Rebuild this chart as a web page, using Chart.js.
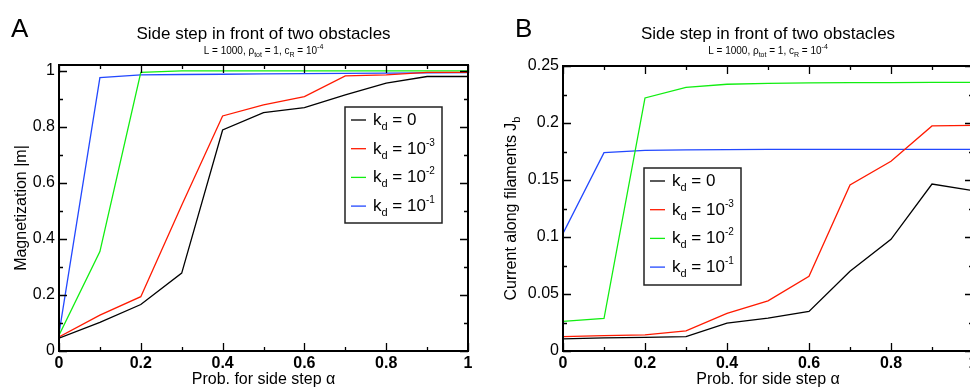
<!DOCTYPE html>
<html>
<head>
<meta charset="utf-8">
<script src="https://cdn.jsdelivr.net/npm/chart.js@4"></script>
<style>
  html, body { margin: 0; padding: 0; background: #fff; overflow: hidden; width: 970px; height: 387px; }
  canvas { position: absolute; top: 0; }
  #chartA { left: 0; }
  #chartB { left: 485px; }
</style>
</head>
<body>
<canvas id="chartA" width="485" height="387"></canvas>
<canvas id="chartB" width="500" height="387"></canvas>
<script>
// ------- Dados -------
const alpha = [0, 0.1, 0.2, 0.3, 0.4, 0.5, 0.6, 0.7, 0.8, 0.9, 1];

// painel A: magnetização |m|
const magK0 = [0.046, 0.102, 0.166, 0.278, 0.789, 0.851, 0.869, 0.914, 0.956, 0.980, 0.980];
const magK3 = [0.050, 0.128, 0.194, 0.520, 0.839, 0.879, 0.908, 0.982, 0.986, 0.995, 0.995];
const magK2 = [0.056, 0.355, 0.995, 1.000, 1.000, 1.000, 1.000, 1.000, 1.000, 1.000, 1.000];
const magK1 = [0.062, 0.976, 0.986, 0.987, 0.988, 0.989, 0.990, 0.991, 0.992, 0.993, 0.994];

// painel B: corrente J_b
const curK0 = [0.0106, 0.0115, 0.0120, 0.0126, 0.0244, 0.0288, 0.0347, 0.0700, 0.0980, 0.1465, 0.1406];
const curK3 = [0.0126, 0.0135, 0.0141, 0.0176, 0.0330, 0.0440, 0.0656, 0.1456, 0.1665, 0.1974, 0.1980];
const curK2 = [0.0259, 0.0285, 0.2220, 0.2313, 0.2340, 0.2348, 0.2352, 0.2354, 0.2355, 0.2356, 0.2357];
const curK1 = [0.1032, 0.1740, 0.1760, 0.1765, 0.1767, 0.1768, 0.1769, 0.1769, 0.1769, 0.1769, 0.1769];

const seriesColors = ['#000000', '#ff1a00', '#11ee11', '#2248ff'];
const kdExponents = [null, '-3', '-2', '-1'];

const xMajor = [0, 0.2, 0.4, 0.6, 0.8, 1];
const xMinor = [0.1, 0.3, 0.5, 0.7, 0.9];
const xTickLabels = ['0', '0.2', '0.4', '0.6', '0.8', '1'];

const yMajorA = [0, 0.2, 0.4, 0.6, 0.8, 1];
const yMinorA = [0.1, 0.3, 0.5, 0.7, 0.9];
const yTickLabelsA = ['0', '0.2', '0.4', '0.6', '0.8', '1'];

const yMajorB = [0, 0.05, 0.1, 0.15, 0.2, 0.25];
const yMinorB = [0.025, 0.075, 0.125, 0.175, 0.225];
const yTickLabelsB = ['0', '0.05', '0.1', '0.15', '0.2', '0.25'];

const FONT = '"Liberation Sans", Arial, Helvetica, sans-serif';

// ------- Utilidades -------
function drawRich(ctx, parts, x, y, align) {
  // parts: [texto, tamanho, deslocamento vertical]
  let total = 0;
  parts.forEach(p => {
    ctx.font = p[1] + 'px ' + FONT;
    total += ctx.measureText(p[0]).width;
  });
  let cx = x;
  if (align === 'center') cx = x - total / 2;
  ctx.textAlign = 'left';
  ctx.textBaseline = 'alphabetic';
  parts.forEach(p => {
    ctx.font = p[1] + 'px ' + FONT;
    ctx.fillText(p[0], cx, y + (p[2] || 0));
    cx += ctx.measureText(p[0]).width;
  });
}

function kdLabel(exp) {
  if (exp === null) return [['k', 17, 0], ['d', 11, 5], [' = 0', 17, 0]];
  return [['k', 17, 0], ['d', 11, 5], [' = 10', 17, 0], [exp, 10, -8]];
}

const subtitle = [
  ['L = 1000, \u03c1', 10, 0], ['tot', 7, 3], [' = 1, c', 10, 0], ['R', 7, 3], [' = 10', 10, 0], ['-4', 7, -5]
];

function decorPlugin(opt) {
  return {
    id: 'decor' + opt.letter,
    afterDatasetsDraw(chart) {
      const ctx = chart.ctx;
      const a = chart.chartArea;
      const xs = chart.scales.x, ys = chart.scales.y;
      ctx.save();
      ctx.fillStyle = '#000';
      ctx.strokeStyle = '#000';

      // ticks para dentro nos quatro lados
      ctx.lineWidth = 1.3;
      ctx.beginPath();
      const tx = (vals, len) => vals.forEach(v => {
        const px = Math.round(xs.getPixelForValue(v)) + 0.5;
        ctx.moveTo(px, a.bottom); ctx.lineTo(px, a.bottom - len);
        ctx.moveTo(px, a.top); ctx.lineTo(px, a.top + len);
      });
      const ty = (vals, len) => vals.forEach(v => {
        const py = Math.round(ys.getPixelForValue(v)) + 0.5;
        ctx.moveTo(a.left, py); ctx.lineTo(a.left + len, py);
        ctx.moveTo(a.right, py); ctx.lineTo(a.right - len, py);
      });
      tx(xMajor, 8); tx(xMinor, 4);
      ty(opt.yMajor, 8); ty(opt.yMinor, 4);
      ctx.stroke();

      // moldura
      ctx.lineWidth = 2;
      ctx.strokeRect(a.left, a.top, a.right - a.left, a.bottom - a.top);

      // títulos
      const cx = (a.left + a.right) / 2;
      ctx.font = '26px ' + FONT;
      ctx.textAlign = 'left';
      ctx.fillText(opt.letter, opt.letterX, 37);
      drawRich(ctx, [['Side step in front of two obstacles', 17, 0]], cx, 39, 'center');
      drawRich(ctx, subtitle, cx, 54, 'center');

      // eixo x
      drawRich(ctx, [['Prob. for side step \u03b1', 16, 0]], cx, 384, 'center');

      // eixo y (rotacionado)
      ctx.save();
      ctx.translate(opt.yTitleX, (a.top + a.bottom) / 2);
      ctx.rotate(-Math.PI / 2);
      drawRich(ctx, opt.yTitle, 0, 0, 'center');
      ctx.restore();

      // legenda
      const L = opt.legend;
      ctx.fillStyle = '#fff';
      ctx.fillRect(L.x, L.y, L.w, L.h);
      ctx.lineWidth = 1.5;
      ctx.strokeStyle = '#222';
      ctx.strokeRect(L.x, L.y, L.w, L.h);
      chart.data.datasets.forEach((ds, i) => {
        const ly = L.y + 13 + i * 28.7;
        ctx.strokeStyle = ds.borderColor;
        ctx.lineWidth = 1.3;
        ctx.beginPath();
        ctx.moveTo(L.x + 6, ly);
        ctx.lineTo(L.x + 21, ly);
        ctx.stroke();
        ctx.fillStyle = '#000';
        drawRich(ctx, kdLabel(kdExponents[i]), L.x + 28, ly + 5, 'left');
      });
      ctx.restore();
    }
  };
}

function buildDatasets(seriesList) {
  return seriesList.map((vals, i) => ({
    data: alpha.map((x, j) => ({ x, y: vals[j] })),
    borderColor: seriesColors[i],
    borderWidth: 1.3,
    pointRadius: 0,
    tension: 0,
    fill: false
  }));
}

function makeChart(id, o) {
  const ctx = document.getElementById(id).getContext('2d');
  return new Chart(ctx, {
    type: 'line',
    data: { datasets: buildDatasets(o.series) },
    options: {
      responsive: false,
      animation: false,
      devicePixelRatio: 1,
      layout: { padding: o.padding },
      plugins: { legend: { display: false }, tooltip: { enabled: false }, title: { display: false } },
      scales: {
        x: {
          type: 'linear', min: 0, max: 1,
          afterBuildTicks: s => { s.ticks = xMajor.map(v => ({ value: v })); },
          afterFit: s => { s.height = 36; },
          grid: { display: false, drawTicks: false },
          border: { display: false },
          ticks: {
            autoSkip: false, maxRotation: 0, padding: 3, color: '#000',
            font: { family: FONT, size: 16, weight: 'bold' },
            callback: (v, i) => xTickLabels[i]
          }
        },
        y: {
          type: 'linear', min: 0, max: o.yMax,
          afterBuildTicks: s => { s.ticks = o.yMajor.map(v => ({ value: v })); },
          afterFit: s => { s.width = o.yWidth; },
          grid: { display: false, drawTicks: false },
          border: { display: false },
          ticks: {
            autoSkip: false, padding: 4, color: '#000',
            font: { family: FONT, size: 16 },
            callback: (v, i) => o.yLabels[i]
          }
        }
      }
    },
    plugins: [decorPlugin(o)]
  });
}

document.addEventListener('DOMContentLoaded', function () {
  makeChart('chartA', {
    letter: 'A', letterX: 11,
    series: [magK0, magK3, magK2, magK1],
    padding: { top: 65, right: 17, left: 0, bottom: 0 },
    yMax: 1.021, yWidth: 59,
    yMajor: yMajorA, yMinor: yMinorA, yLabels: yTickLabelsA,
    yTitleX: 26,
    yTitle: [['Magnetization |m|', 16, 0]],
    legend: { x: 345, y: 107, w: 97, h: 116 }
  });

  makeChart('chartB', {
    letter: 'B', letterX: 30,
    series: [curK0, curK3, curK2, curK1],
    padding: { top: 66, right: 12, left: 0, bottom: 0 },
    yMax: 0.25, yWidth: 78,
    yMajor: yMajorB, yMinor: yMinorB, yLabels: yTickLabelsB,
    yTitleX: 31,
    yTitle: [['Current along filaments J', 16, 0], ['b', 11, 4]],
    legend: { x: 159, y: 168, w: 97, h: 117 }
  });
});
</script>
</body>
</html>
